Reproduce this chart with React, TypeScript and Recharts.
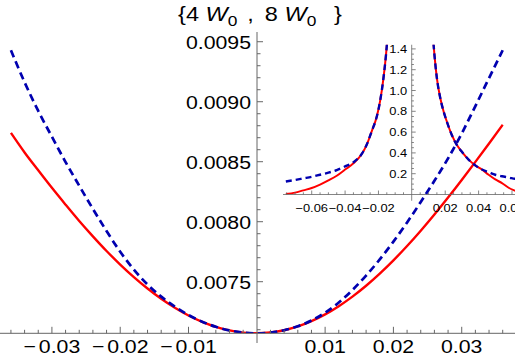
import React from 'react';
import { LineChart, Line, XAxis, YAxis } from 'recharts';

// ---------- main plot data ----------
const mainX = [
  -0.036, -0.034, -0.032, -0.03, -0.028, -0.026, -0.024, -0.022, -0.02, -0.018, -0.016, -0.014, -0.012,
  -0.01, -0.008, -0.006, -0.004, -0.002, 0, 0.002, 0.004, 0.006, 0.008, 0.01, 0.012, 0.014, 0.016, 0.018,
  0.02, 0.022, 0.024, 0.026, 0.028, 0.03, 0.032, 0.034, 0.036,
];
const mainRed = [
  0.00874, 0.008577, 0.008428, 0.008282, 0.008142, 0.008006, 0.007878, 0.007756, 0.007643, 0.007538, 0.007443,
  0.0073575, 0.0072825, 0.007218, 0.0071653, 0.007124, 0.007094, 0.007076, 0.00707, 0.0070764, 0.0070956,
  0.0071273, 0.0071716, 0.007228, 0.0072963, 0.0073759, 0.0074665, 0.0075674, 0.007678, 0.0077975, 0.0079252,
  0.0080602, 0.0082015, 0.008348, 0.0084987, 0.0086523, 0.0088077,
];
const mainBlue = [
  0.009429, 0.009162, 0.008923, 0.008708, 0.008497, 0.0083, 0.008107, 0.007922, 0.00775, 0.007601, 0.007477,
  0.007376, 0.007292, 0.007222, 0.0071666, 0.007124, 0.007094, 0.007076, 0.00707, 0.0070764, 0.0070956,
  0.0071283, 0.0071762, 0.007242, 0.007326, 0.007431, 0.007551, 0.007686, 0.007834, 0.007994, 0.008164,
  0.008341, 0.008528, 0.008735, 0.008964, 0.009197, 0.009429,
];
const mainXTicks = [
  -0.036, -0.034, -0.032, -0.03, -0.028, -0.026, -0.024, -0.022, -0.02, -0.018, -0.016, -0.014, -0.012,
  -0.01, -0.008, -0.006, -0.004, -0.002, 0.002, 0.004, 0.006, 0.008, 0.01, 0.012, 0.014, 0.016, 0.018,
  0.02, 0.022, 0.024, 0.026, 0.028, 0.03, 0.032, 0.034, 0.036,
];
const mainXLabels = [-0.03, -0.02, -0.01, 0.01, 0.02, 0.03];
const mainYTicks = [
  0.0071, 0.0072, 0.0073, 0.0074, 0.0075, 0.0076, 0.0077, 0.0078, 0.0079, 0.008, 0.0081, 0.0082, 0.0083,
  0.0084, 0.0085, 0.0086, 0.0087, 0.0088, 0.0089, 0.009, 0.0091, 0.0092, 0.0093, 0.0094, 0.0095,
];
const mainYLabels = [0.0075, 0.008, 0.0085, 0.009, 0.0095];

// ---------- inset data ----------
const insetLeftX = [
  -0.0755, -0.07, -0.065, -0.06, -0.055, -0.05, -0.045, -0.04, -0.035, -0.03, -0.027, -0.024, -0.021, -0.019,
  -0.017, -0.0155, -0.0145,
];
const insetLeftRed = [0.005, 0.018, 0.04, 0.062, 0.095, 0.135, 0.18, 0.24, 0.3, 0.39, 0.48, 0.61, 0.75, 0.9, 1.12, 1.34, 1.53];
const insetLeftBlue = [0.125, 0.14, 0.155, 0.17, 0.19, 0.21, 0.235, 0.27, 0.31, 0.39, 0.48, 0.61, 0.75, 0.9, 1.12, 1.34, 1.53];

const insetRightX = [
  0.0125, 0.0135, 0.015, 0.017, 0.019, 0.021, 0.024, 0.027, 0.03, 0.034, 0.038, 0.042, 0.046, 0.05, 0.054,
  0.058, 0.062, 0.066,
];
const insetRightRed = [1.55, 1.35, 1.12, 0.93, 0.8, 0.7, 0.57, 0.475, 0.41, 0.335, 0.28, 0.24, 0.19, 0.145, 0.11, 0.065, 0.035, 0.01];
const insetRightBlue = [1.55, 1.35, 1.12, 0.93, 0.8, 0.7, 0.57, 0.475, 0.41, 0.335, 0.28, 0.24, 0.215, 0.19, 0.175, 0.163, 0.15, 0.14];

const insetXTicks = [
  -0.075, -0.07, -0.065, -0.06, -0.055, -0.05, -0.045, -0.04, -0.035, -0.03, -0.025, -0.02, -0.015, -0.01,
  -0.005, 0.005, 0.01, 0.015, 0.02, 0.025, 0.03, 0.035, 0.04, 0.045, 0.05, 0.055, 0.06, 0.065,
];
const insetXLabels = [-0.06, -0.04, -0.02, 0.02, 0.04, 0.06];
const insetYTicks = [
  0.05, 0.1, 0.15, 0.2, 0.25, 0.3, 0.35, 0.4, 0.45, 0.5, 0.55, 0.6, 0.65, 0.7, 0.75, 0.8, 0.85, 0.9, 0.95, 1.0,
  1.05, 1.1, 1.15, 1.2, 1.25, 1.3, 1.35, 1.4,
];
const insetYLabels = [0.2, 0.4, 0.6, 0.8, 1.0, 1.2, 1.4];

const mainData = mainX.map((x, i) => ({ x, red: mainRed[i], blue: mainBlue[i] }));
const insetLeft = insetLeftX.map((x, i) => ({ x, red: insetLeftRed[i], blue: insetLeftBlue[i] }));
const insetRight = insetRightX.map((x, i) => ({ x, red: insetRightRed[i], blue: insetRightBlue[i] }));

// ---------- styles ----------
const FONT = '"Liberation Sans", Arial, Helvetica, sans-serif';
const AXIS = '#666';
const RED = '#ff0000';
const BLUE = '#0000b0';
const SX = 1.12;

const isIn = (arr: number[], v: number) => arr.some((a) => Math.abs(a - v) < 1e-9);
const minus = (s: string) => s.replace('-', '\u2212');

function MainXTick(props: any) {
  const { x, y, payload } = props;
  const v = payload.value;
  const major = isIn(mainXLabels, v);
  const neg = v < 0;
  const body = Math.abs(v).toFixed(2);
  return (
    <g>
      <line x1={x} x2={x} y1={y} y2={y - (major ? 6.5 : 3.5)} stroke={AXIS} strokeWidth={1} />
      {major && (
        <text transform={`translate(${x},${y + 20}) scale(${SX},1)`} textAnchor="middle" fontFamily={FONT} fontSize={19} fill="#000">
          {neg && <tspan>{'\u2212'}</tspan>}
          <tspan dx={neg ? 2.5 : 0}>{body}</tspan>
        </text>
      )}
    </g>
  );
}

function MainYTick(props: any) {
  const { x, y, payload } = props;
  const v = payload.value;
  const major = isIn(mainYLabels, v);
  return (
    <g>
      <line x1={x} x2={x + (major ? 6 : 3.5)} y1={y} y2={y} stroke={AXIS} strokeWidth={1} />
      {major && (
        <text transform={`translate(${x - 6},${y}) scale(${SX},1)`} dy="0.36em" textAnchor="end" fontFamily={FONT} fontSize={19} fill="#000">
          {v.toFixed(4)}
        </text>
      )}
    </g>
  );
}

function InsetXTick(props: any) {
  const { x, y, payload } = props;
  const v = payload.value;
  const major = isIn(insetXLabels, v);
  return (
    <g>
      <line x1={x} x2={x} y1={y} y2={y - (major ? 4 : 2.2)} stroke={AXIS} strokeWidth={0.8} />
      {major && (
        <text transform={`translate(${x},${y + 17.5}) scale(${SX},1)`} textAnchor="middle" fontFamily={FONT} fontSize={11.5} fill="#000">
          {minus(v.toFixed(2))}
        </text>
      )}
    </g>
  );
}

function InsetYTick(props: any) {
  const { x, y, payload } = props;
  const v = payload.value;
  const major = isIn(insetYLabels, v);
  return (
    <g>
      <line x1={x} x2={x + (major ? 4 : 2.2)} y1={y} y2={y} stroke={AXIS} strokeWidth={0.8} />
      {major && (
        <text transform={`translate(${x - 4.5},${y}) scale(${SX},1)`} dy="0.36em" textAnchor="end" fontFamily={FONT} fontSize={11.5} fill="#000">
          {v.toFixed(1)}
        </text>
      )}
    </g>
  );
}

export default function App() {
  return (
    <div style={{ position: 'absolute', left: 0, top: 0, width: 515, height: 361, overflow: 'hidden', background: '#fff' }}>
      {/* main plot */}
      <div style={{ position: 'absolute', left: 0, top: 0 }}>
        <LineChart width={515} height={361} data={mainData} margin={{ top: 32, right: 0, bottom: 0, left: 0 }}>
          <XAxis
            dataKey="x"
            type="number"
            domain={[-0.0376, 0.0378]}
            allowDataOverflow
            ticks={mainXTicks}
            interval={0}
            tick={(p: any) => <MainXTick {...p} />}
            tickLine={false}
            tickSize={0}
            tickMargin={0}
            height={27.7}
            axisLine={{ stroke: AXIS, strokeWidth: 1 }}
          />
          <YAxis type="number" domain={[0.00707, 0.009581]} allowDataOverflow hide width={0} />
          <Line type="monotone" dataKey="red" stroke={RED} strokeWidth={2.4} dot={false} isAnimationActive={false} />
          <Line type="monotone" dataKey="blue" stroke={BLUE} strokeWidth={2.7} strokeDasharray="7.5 4.5" dot={false} isAnimationActive={false} />
        </LineChart>
      </div>
      {/* main vertical axis at x = 0 */}
      <div style={{ position: 'absolute', left: 0, top: 0 }}>
        <LineChart width={515} height={361} data={mainData} margin={{ top: 32, right: 0, bottom: 18, left: 0 }}>
          <XAxis dataKey="x" type="number" domain={[0, 0.0378]} allowDataOverflow hide />
          <YAxis
            type="number"
            domain={[0.0069893, 0.009581]}
            allowDataOverflow
            ticks={mainYTicks}
            interval={0}
            width={257}
            tick={(p: any) => <MainYTick {...p} />}
            tickLine={false}
            tickSize={0}
            tickMargin={0}
            axisLine={{ stroke: AXIS, strokeWidth: 1 }}
          />
        </LineChart>
      </div>
      {/* inset plot */}
      <div style={{ position: 'absolute', left: 283, top: 0 }}>
        <LineChart width={239} height={230} margin={{ top: 44.74, right: 0, bottom: 0, left: 0 }}>
          <XAxis
            dataKey="x"
            type="number"
            domain={[-0.0772, 0.066]}
            allowDataOverflow
            ticks={insetXTicks}
            interval={0}
            tick={(p: any) => <InsetXTick {...p} />}
            tickLine={false}
            tickSize={0}
            tickMargin={0}
            height={35.5}
            axisLine={{ stroke: AXIS, strokeWidth: 0.8 }}
          />
          <YAxis type="number" domain={[0, 1.44]} allowDataOverflow hide width={0} />
          <Line data={insetLeft} type="monotone" dataKey="red" stroke={RED} strokeWidth={2} dot={false} isAnimationActive={false} />
          <Line data={insetLeft} type="monotone" dataKey="blue" stroke={BLUE} strokeWidth={2.4} strokeDasharray="6 4" dot={false} isAnimationActive={false} />
          <Line data={insetRight} type="monotone" dataKey="red" stroke={RED} strokeWidth={2} dot={false} isAnimationActive={false} />
          <Line data={insetRight} type="monotone" dataKey="blue" stroke={BLUE} strokeWidth={2.4} strokeDasharray="6 4" dot={false} isAnimationActive={false} />
        </LineChart>
      </div>
      {/* inset vertical axis at x = 0 */}
      <div style={{ position: 'absolute', left: 283, top: 0 }}>
        <LineChart width={239} height={230} margin={{ top: 44.74, right: 0, bottom: 29.26, left: 0 }}>
          <XAxis dataKey="x" type="number" domain={[0, 0.066]} allowDataOverflow hide />
          <YAxis
            type="number"
            domain={[-0.06, 1.44]}
            allowDataOverflow
            ticks={insetYTicks}
            interval={0}
            width={128.7}
            tick={(p: any) => <InsetYTick {...p} />}
            tickLine={false}
            tickSize={0}
            tickMargin={0}
            axisLine={{ stroke: AXIS, strokeWidth: 0.8 }}
          />
        </LineChart>
      </div>
      {/* title */}
      <svg width={515} height={34} style={{ position: 'absolute', left: 0, top: 0 }}>
        <text
          transform="translate(260,21) scale(1.12,1)"
          textAnchor="middle"
          fontFamily={FONT}
          fontSize={21}
          fill="#000"
          style={{ whiteSpace: 'pre' }}
        >
          <tspan>{'{4 '}</tspan>
          <tspan fontStyle="italic">W</tspan>
          <tspan fontSize={15.5} dy={5}>0</tspan>
          <tspan dy={-5} dx={3}>{' ,'}</tspan>
          <tspan dx={4}>{' 8 '}</tspan>
          <tspan fontStyle="italic">W</tspan>
          <tspan fontSize={15.5} dy={5}>0</tspan>
          <tspan dy={-5} dx={10}>{' }'}</tspan>
        </text>
      </svg>
    </div>
  );
}
